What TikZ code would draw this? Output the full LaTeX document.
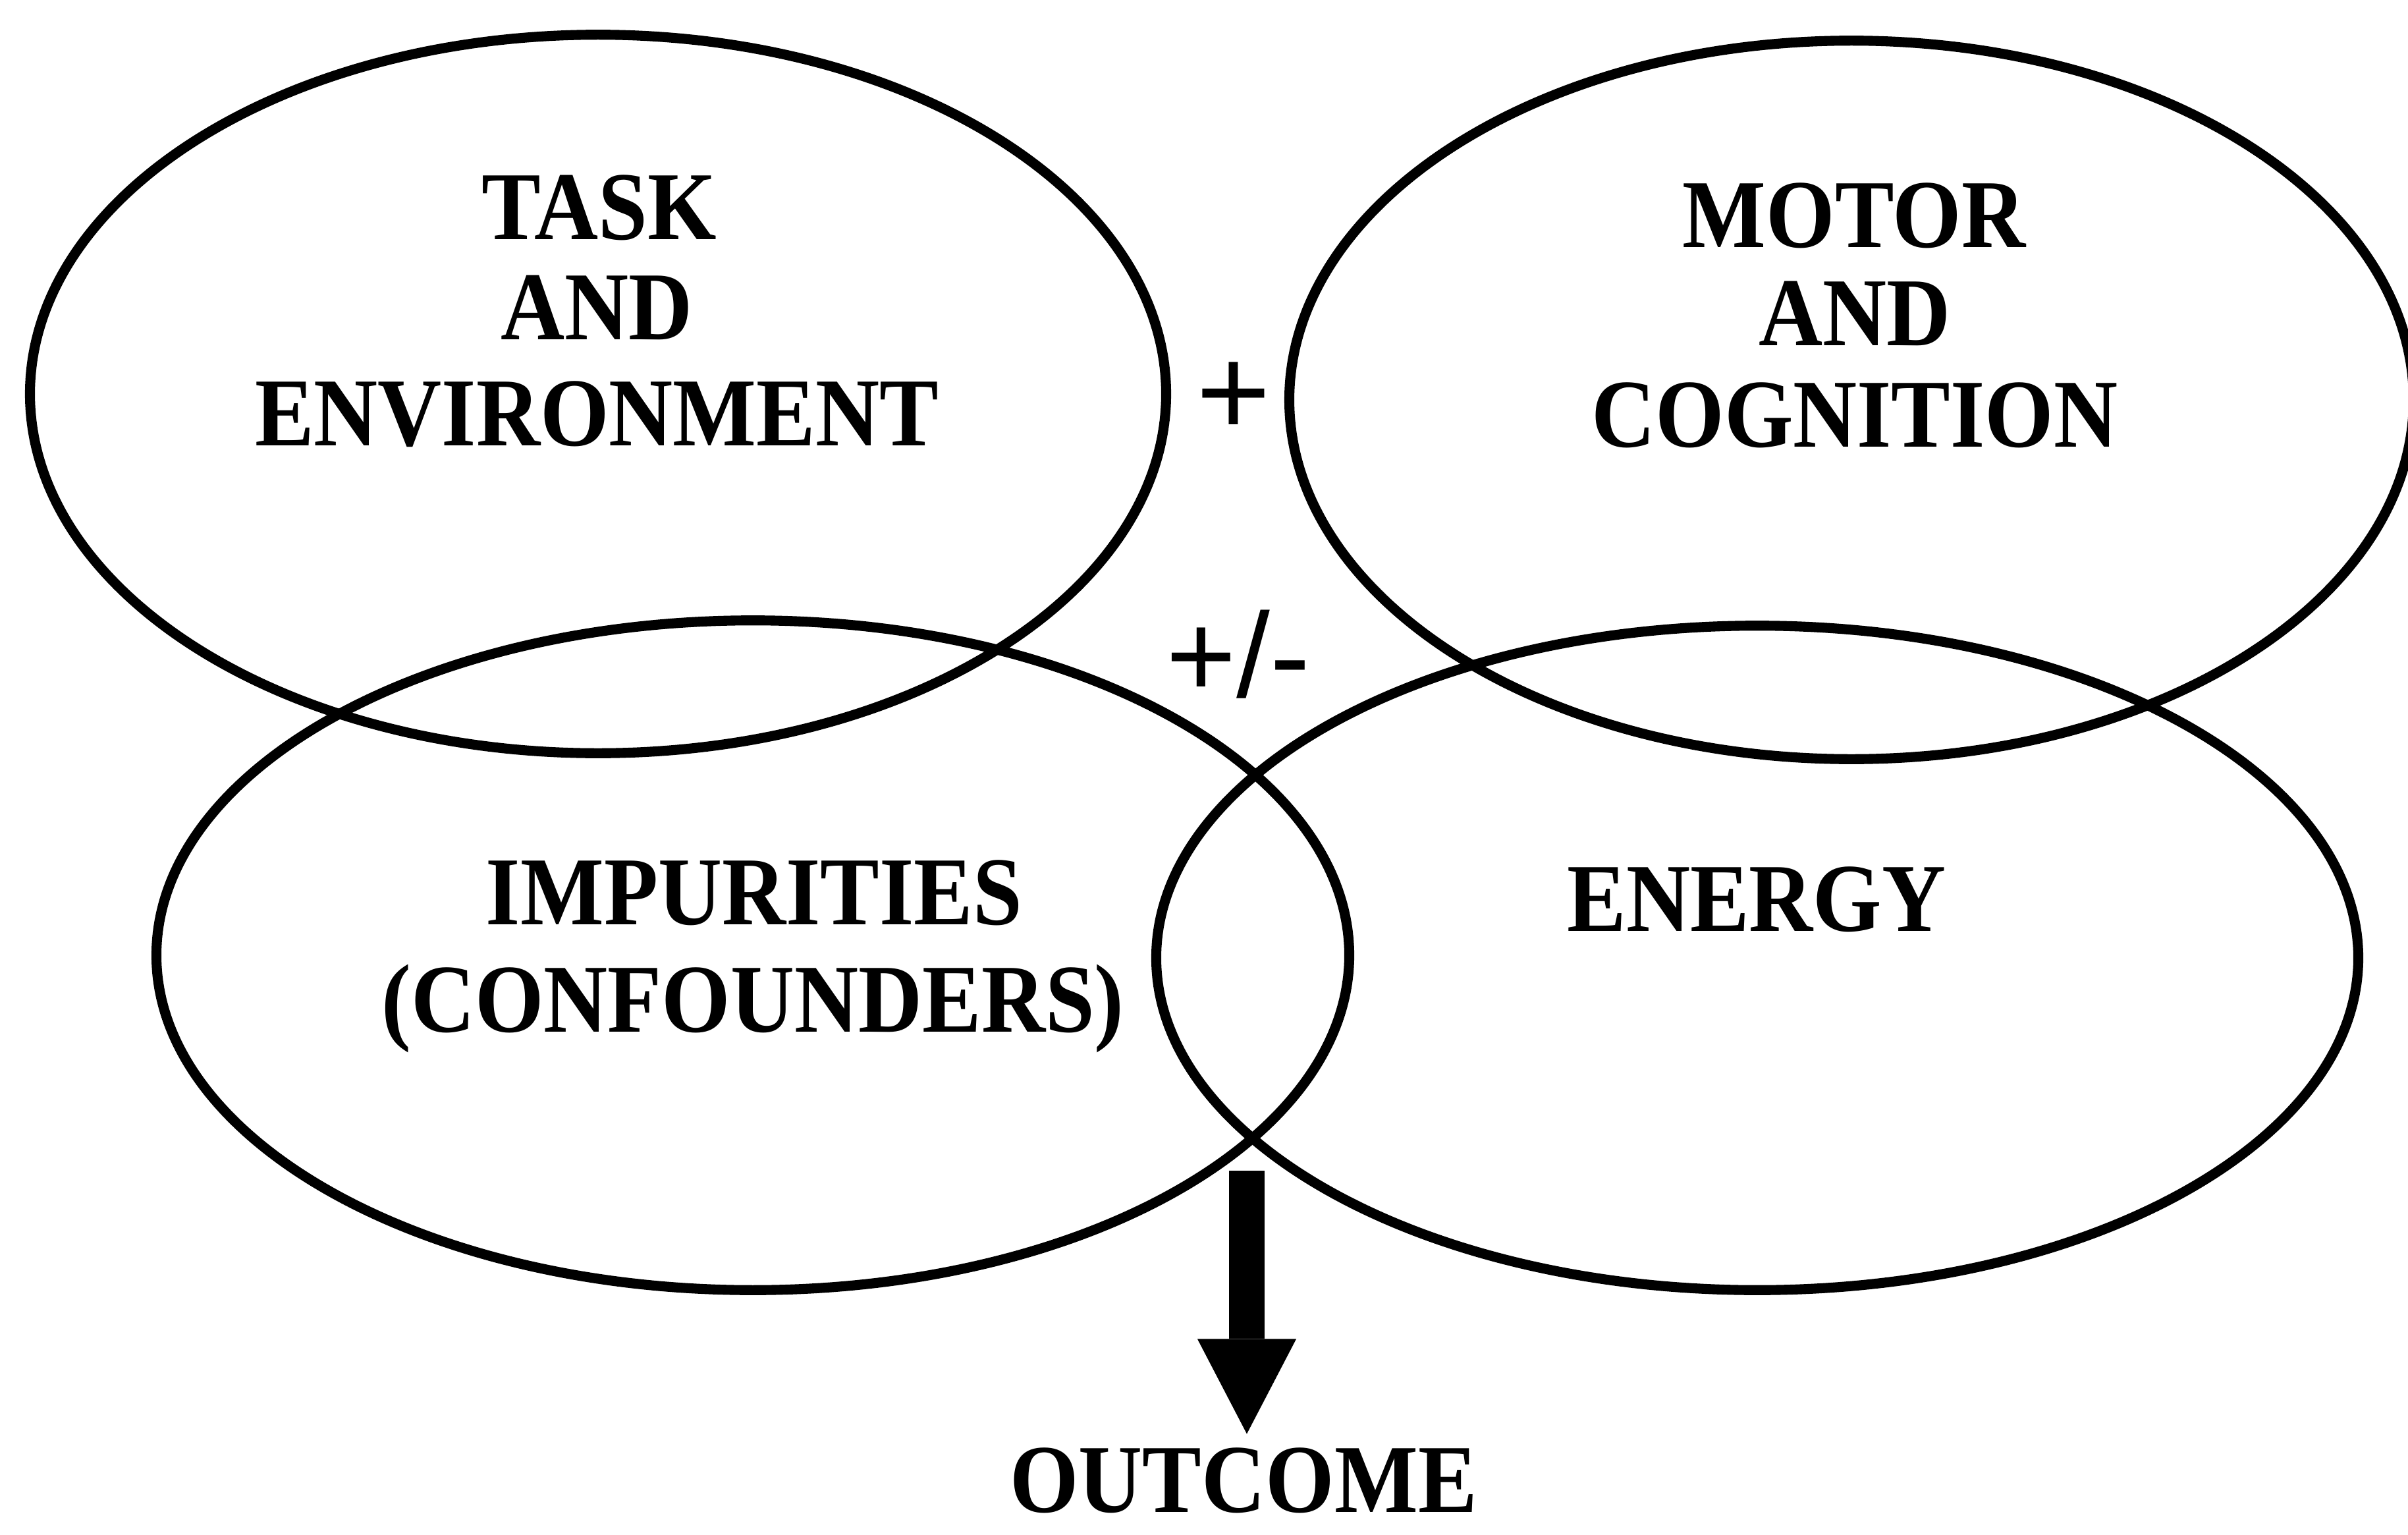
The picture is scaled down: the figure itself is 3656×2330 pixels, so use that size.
\documentclass[tikz,border=0pt]{standalone}
\usepackage{fontspec}
\usetikzlibrary{shapes.geometric,arrows.meta}
\newfontfamily\capsfont{Liberation Serif}[FakeStretch=0.91]
\newfontfamily\signfont{Liberation Sans}
\begin{document}
\begin{tikzpicture}[x=0.01cm, y=-0.01cm,
  venn/.style={draw, ellipse, line width=4.3pt, inner sep=0pt},
  lbl/.style={inner sep=0pt, anchor=base,
    font=\capsfont\bfseries\fontsize{42pt}{44pt}\selectfont},
  sign/.style={inner sep=0pt, anchor=base},
  bigarrow/.style={line width=15.4pt,
    -{Triangle[width=1.5cm, length=1.44cm, line width=0pt]}}]

% page
\useasboundingbox (0,0) rectangle (3656,2330);
\fill[white] (0,0) rectangle (3656,2330);

% the four overlapping sets
\node[venn, minimum width=17.24cm, minimum height=10.90cm] (task)   at (908,598)  {};
\node[venn, minimum width=17.06cm, minimum height=10.90cm] (motor)  at (2811,607) {};
\node[venn, minimum width=18.10cm, minimum height=10.16cm] (impure) at (1143,1450) {};
\node[venn, minimum width=18.24cm, minimum height=10.08cm] (energy) at (2668,1454) {};

% set labels
\node[lbl] (task1) at (910,363) {TASK};
\node[lbl] (task2) at (906,515) {AND};
\node[lbl] (task3) at (906,676) {ENVIRONMENT};

\node[lbl] (motor1) at (2815,375) {MOTOR};
\node[lbl] (motor2) at (2816,524) {AND};
\node[lbl] (motor3) at (2816,678) {COGNITION};

\node[lbl] (impure1) at (1145,1403) {IMPURITIES};
\node[lbl] (impure2) at (1143,1566) {(CONFOUNDERS)};

\node[lbl] (energy1) at (2667,1413) {ENERGY};

% interaction signs
\node[sign, font=\signfont\fontsize{55pt}{57pt}\selectfont] (plus) at (1873,661) {+};
\node[sign, font=\signfont\fontsize{52pt}{54pt}\selectfont] (plusminus) at (1880,1058) {+/-};

% result
\node[lbl] (outcome) at (1888,2295) {OUTCOME};
\coordinate (src) at (1893,1777);
\draw[bigarrow, shorten >=0.2cm] (src) -- (src |- outcome.north);

\end{tikzpicture}
\end{document}
